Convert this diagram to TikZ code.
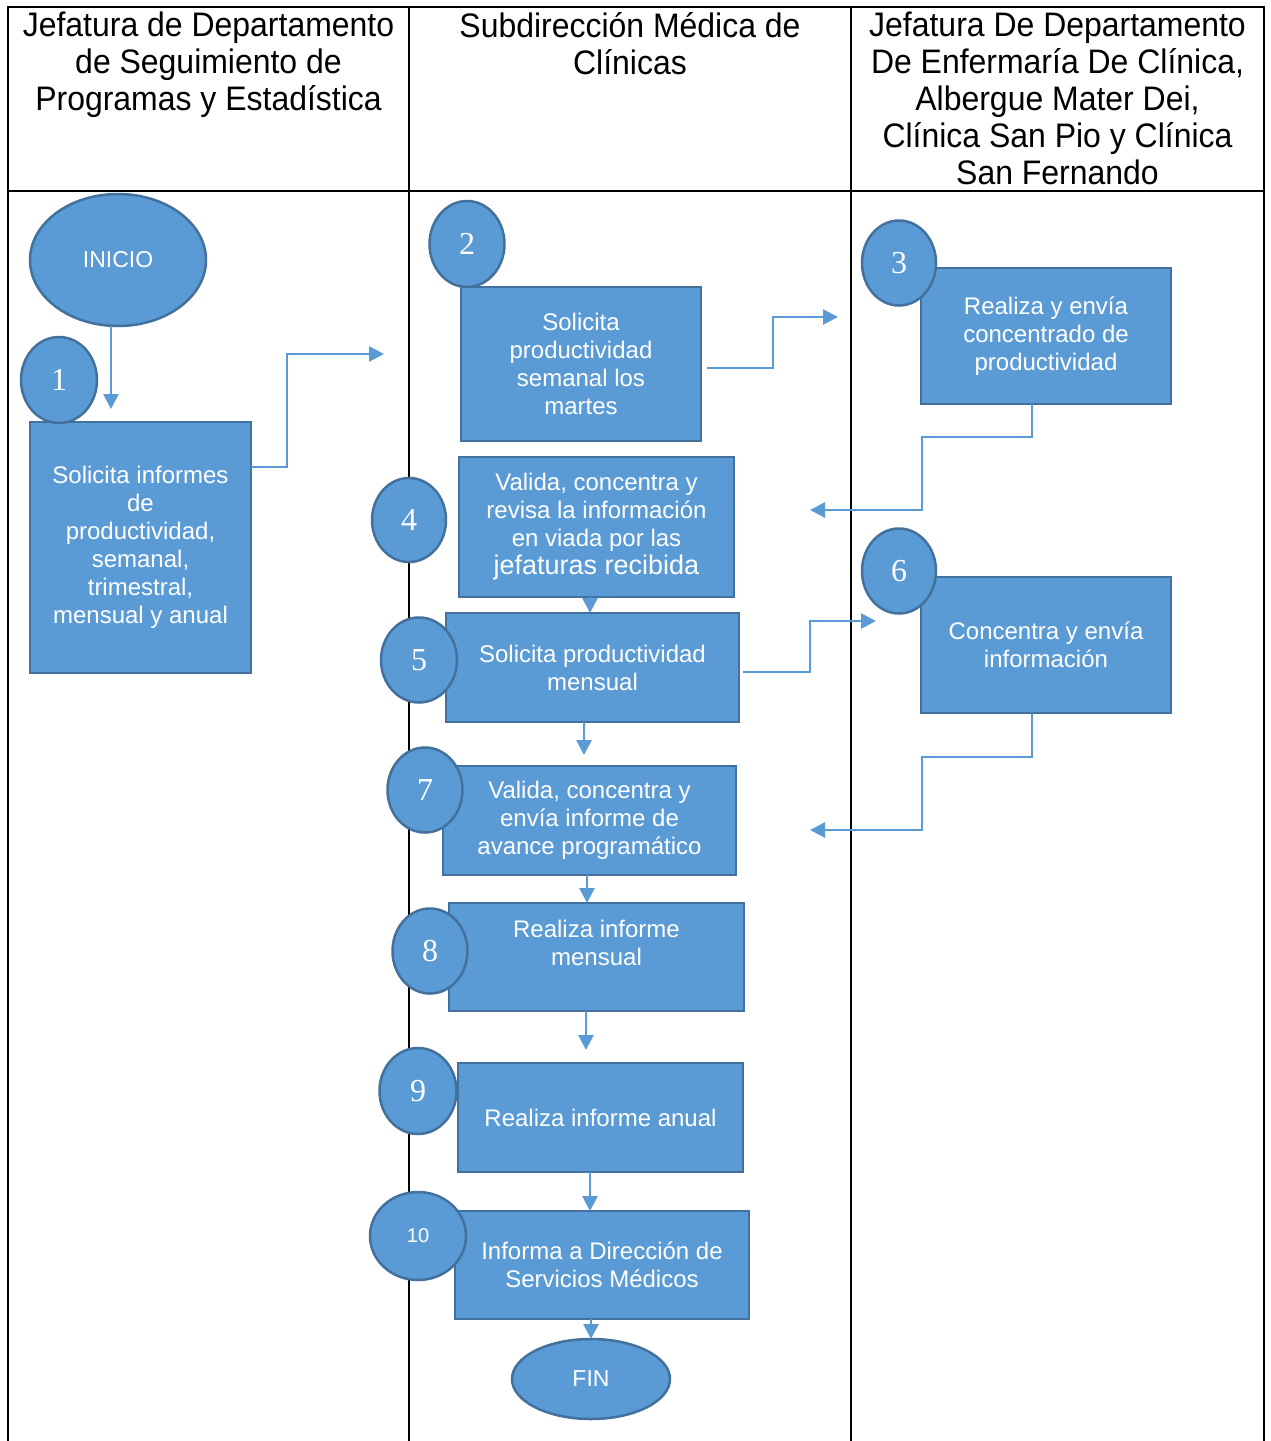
\documentclass[tikz,border=0pt]{standalone}
\usepackage{fontspec}
\setmainfont{Liberation Sans}
\newfontfamily\hdrfont[FakeStretch=0.94]{Liberation Sans}
\newfontfamily\numfont{Liberation Serif}
\usetikzlibrary{arrows.meta,shapes.geometric}
\definecolor{fillblue}{HTML}{5B9BD5}
\definecolor{edgeblue}{HTML}{41719C}
\begin{document}
\begin{tikzpicture}[x=1pt,y=-1pt,
  box/.style={rectangle,draw=edgeblue,fill=fillblue,line width=2pt,text=white,align=center,inner sep=0pt,outer sep=0pt,font=\fontsize{24}{28}\selectfont},
  numc/.style={ellipse,draw=edgeblue,fill=fillblue,line width=2.5pt,text=white,inner sep=0pt,outer sep=0pt,font=\numfont\fontsize{32}{32}\selectfont},
  term/.style={ellipse,draw=edgeblue,fill=fillblue,line width=2.5pt,text=white,inner sep=0pt,outer sep=0pt,font=\fontsize{23}{23}\selectfont},
  hdr/.style={anchor=north,align=center,inner sep=0pt,font=\hdrfont\fontsize{34}{37}\selectfont},
  flow/.style={draw=fillblue,line width=2.7pt},
  arr/.style={flow,-{Triangle[length=15pt,width=15pt]}},
  gridline/.style={draw=black,line width=2.2pt}]
\useasboundingbox (0,0) rectangle (1270,1441);
\fill[white] (0,0) rectangle (1270,1441);
% table
\draw[gridline] (8,1441) -- (8,7) -- (1264,7) -- (1264,1441);
\draw[gridline] (8,191) -- (1264,191);
\draw[gridline] (409,7) -- (409,1441);
\draw[gridline] (851,7) -- (851,1441);
% headers
\node[hdr] (h1) at (208.5,12) {Jefatura de Departamento\\de Seguimiento de\\Programas y Estadística};
\node[hdr] (h2) at (630,12) {Subdirección Médica de\\Clínicas};
\node[hdr] (h3) at (1057.5,12) {Jefatura De Departamento\\De Enfermaría De Clínica,\\Albergue Mater Dei,\\Clínica San Pio y Clínica\\San Fernando};
% terminals
\node[term,minimum width=176pt,minimum height=132pt] (inicio) at (118,260) {INICIO};
% boxes
\node[box,minimum width=221pt,minimum height=251pt] (b1) at (140.5,547.5) {Solicita informes\\de\\productividad,\\semanal,\\trimestral,\\mensual y anual};
\node[box,minimum width=240pt,minimum height=154pt] (b2) at (581,364) {Solicita\\productividad\\semanal los\\martes};
\node[box,minimum width=250pt,minimum height=136pt] (b3) at (1046,336) {Realiza y envía\\concentrado de\\productividad};
\node[box,minimum width=275pt,minimum height=140pt] (b4) at (596.5,527) {Valida, concentra y\\revisa la información\\en viada por las\\{\fontsize{27}{28}\selectfont jefaturas recibida}};
\node[box,minimum width=293pt,minimum height=109pt] (b5) at (592.5,667.5) {Solicita productividad\\mensual};
\node[box,minimum width=250pt,minimum height=136pt] (b6) at (1046,645) {Concentra y envía\\información};
\node[box,minimum width=293pt,minimum height=109pt] (b7) at (589.5,820.5) {Valida, concentra y\\envía informe de\\avance programático};
\node[box,minimum width=295pt,minimum height=108pt] (b8) at (596.5,957) {};
\node[align=center,text=white,inner sep=0pt,font=\fontsize{24}{28}\selectfont] (t8) at (596.5,943) {Realiza informe\\mensual};
\node[box,minimum width=285pt,minimum height=109pt] (b9) at (600.5,1117.5) {Realiza informe anual};
\node[box,minimum width=294pt,minimum height=108pt] (b10) at (602,1265) {Informa a Dirección de\\Servicios Médicos};
\node[term,minimum width=158pt,minimum height=80pt] (fin) at (591,1379) {FIN};
% number circles
\node[numc,minimum width=76pt,minimum height=86pt] (c1) at (59,380) {1};
\node[numc,minimum width=75pt,minimum height=86pt] (c2) at (467,244) {2};
\node[numc,minimum width=74pt,minimum height=85pt] (c3) at (899,263) {3};
\node[numc,minimum width=74pt,minimum height=84pt] (c4) at (409,520) {4};
\node[numc,minimum width=76pt,minimum height=85pt] (c5) at (419,660) {5};
\node[numc,minimum width=74pt,minimum height=85pt] (c6) at (899,571) {6};
\node[numc,minimum width=75pt,minimum height=85pt] (c7) at (425,790) {7};
\node[numc,minimum width=75pt,minimum height=85pt] (c8) at (430,951) {8};
\node[numc,minimum width=77pt,minimum height=86pt] (c9) at (418,1091) {9};
\node[numc,minimum width=96pt,minimum height=88pt,font=\fontsize{20}{20}\selectfont] (c10) at (418,1236) {10};
% free ends of connectors
\coordinate (e0) at (111,409);
\coordinate (e1) at (384,354);
\coordinate (e2) at (838,317);
\coordinate (e3) at (810,510);
\coordinate (e5) at (876,621);
\coordinate (e6) at (810,830);
% connectors
\draw[arr] (inicio.south -| e0) -- (e0);
\draw[arr] ([yshift=80.5pt]b1.east) -- (287,467) -- (287,354) -- (e1);
\draw[arr] ([xshift=6pt,yshift=-4pt]b2.east) -- (773,368) -- (773,317) -- (e2);
\draw[arr] ([xshift=-14pt]b3.south) -- (1032,437) -- (922,437) -- (922,510) -- (e3);
\draw[arr] ([xshift=-6.5pt]b4.south) -- ([xshift=-2.5pt]b5.north);
\draw[arr] ([xshift=4pt,yshift=-4.5pt]b5.east) -- (810,672) -- (810,621) -- (e5);
\draw[arr] ([xshift=-14pt]b6.south) -- (1032,757) -- (922,757) -- (922,830) -- (e6);
\draw[arr] ([xshift=-8.5pt]b5.south) -- ([xshift=-5.5pt,yshift=11pt]b7.north);
\draw[arr] ([xshift=-2.5pt]b7.south) -- ([xshift=-9.5pt]b8.north);
\draw[arr] ([xshift=-10.5pt]b8.south) -- ([xshift=-14.5pt,yshift=13pt]b9.north);
\draw[arr] ([xshift=-10.5pt]b9.south) -- ([xshift=-12pt]b10.north);
\draw[arr] ([xshift=-11pt]b10.south) -- (fin.north);
\end{tikzpicture}
\end{document}
